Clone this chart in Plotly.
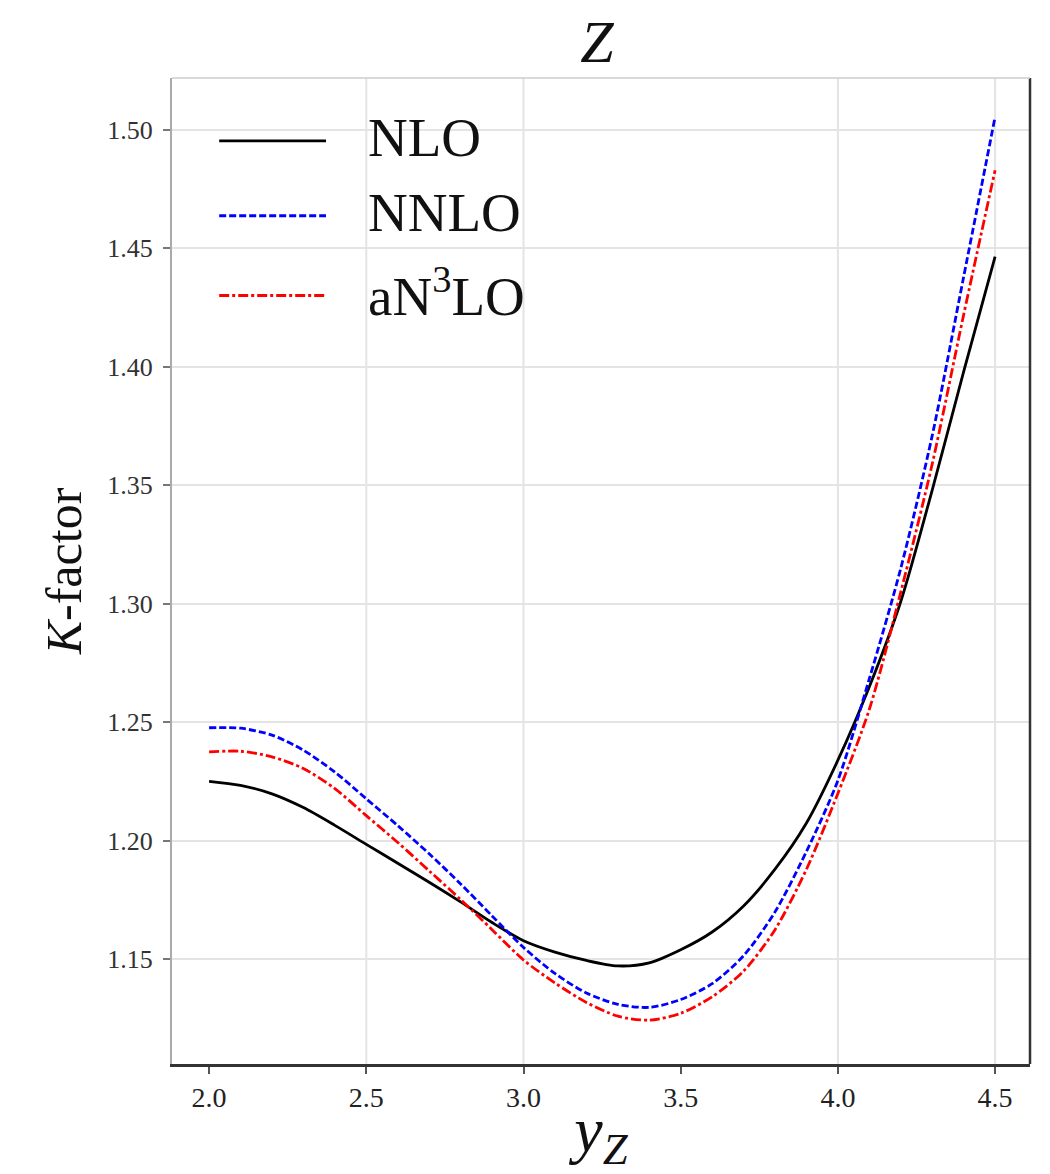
import plotly.graph_objects as go

# ---- data ----
y_z = [2.0, 2.1, 2.2, 2.3, 2.4, 2.5, 2.6, 2.7, 2.8, 2.9, 3.0, 3.1, 3.2,
       3.3, 3.4, 3.5, 3.6, 3.7, 3.8, 3.9, 4.0, 4.1, 4.2, 4.3, 4.4, 4.5]

k_nlo = [1.2251, 1.2234, 1.2198, 1.2140, 1.2065, 1.1985, 1.1905, 1.1825,
         1.1742, 1.1655, 1.1578, 1.1530, 1.1495, 1.1472, 1.1485, 1.1540,
         1.1615, 1.1725, 1.1880, 1.2075, 1.2340, 1.2650, 1.3010, 1.3480,
         1.3980, 1.4465]

k_nnlo = [1.2477, 1.2475, 1.2446, 1.2382, 1.2290, 1.2177, 1.2064, 1.1945,
          1.1818, 1.1683, 1.1550, 1.1440, 1.1358, 1.1310, 1.1297, 1.1330,
          1.1397, 1.1515, 1.1700, 1.1955, 1.2255, 1.2684, 1.3150, 1.3710,
          1.4380, 1.5055]

k_an3lo = [1.2375, 1.2378, 1.2354, 1.2305, 1.2220, 1.2106, 1.1993, 1.1873,
           1.1752, 1.1625, 1.1497, 1.1400, 1.1318, 1.1260, 1.1243, 1.1272,
           1.1342, 1.1450, 1.1625, 1.1880, 1.2200, 1.2555, 1.3050, 1.3590,
           1.4220, 1.4830]

series_names = ["NLO", "NNLO", "aN<sup>3</sup>LO"]
series_colors = ["#000000", "#0000ff", "#ff0000"]
series_dash = ["solid", "7px,3px", "10px,3px,3px,3px"]

x_ticks = [2.0, 2.5, 3.0, 3.5, 4.0, 4.5]
x_tick_labels = ["2.0", "2.5", "3.0", "3.5", "4.0", "4.5"]
x_grid = [2.5, 3.0, 4.0, 4.5]
y_ticks = [1.15, 1.20, 1.25, 1.30, 1.35, 1.40, 1.45, 1.50]
y_tick_labels = ["1.15", "1.20", "1.25", "1.30", "1.35", "1.40", "1.45", "1.50"]

X_RANGE = [1.882, 4.611]
Y_RANGE = [1.1058, 1.5219]

SERIF = "Liberation Serif, DejaVu Serif, serif"

fig = go.Figure()
for vals, name, col, dash in zip([k_nlo, k_nnlo, k_an3lo], series_names,
                                  series_colors, series_dash):
    fig.add_trace(go.Scatter(
        x=y_z, y=vals, mode="lines", name=name,
        line=dict(color=col, width=2.8, dash=dash, shape="spline", smoothing=0.8),
        showlegend=False,
    ))

shapes = []
annotations = []

# vertical grid lines (only those visible in the original)
for gx in x_grid:
    shapes.append(dict(type="line", xref="x", yref="paper", x0=gx, x1=gx, y0=0, y1=1,
                       layer="below", line=dict(color="#e4e4e4", width=2)))

# custom legend (long line samples like the original)
leg_y = [0.9362, 0.8603, 0.7794]
for name, col, dash, ly in zip(series_names, series_colors, series_dash, leg_y):
    shapes.append(dict(type="line", xref="paper", yref="paper",
                       x0=0.055, x1=0.1795, y0=ly, y1=ly,
                       line=dict(color=col, width=2.8, dash=dash)))
    annotations.append(dict(xref="paper", yref="paper", x=0.2260, y=ly + 0.003,
                            xanchor="left", yanchor="middle", text=name,
                            showarrow=False,
                            font=dict(family=SERIF, size=55, color="#111")))

# frame: right dark, top light
shapes.append(dict(type="line", xref="paper", yref="paper", x0=1, x1=1, y0=0, y1=1,
                   line=dict(color="#333333", width=2.5)))
shapes.append(dict(type="line", xref="paper", yref="paper", x0=0, x1=1, y0=1, y1=1,
                   line=dict(color="#cccccc", width=1.5)))

fig.update_layout(
    width=1050, height=1174,
    margin=dict(l=172, r=20, t=78, b=108),
    paper_bgcolor="white", plot_bgcolor="white",
    title=dict(text="<i>Z</i>", x=0.5686, xanchor="center", y=0.965, yanchor="middle",
               font=dict(family=SERIF, size=60, color="#111")),
    shapes=shapes,
    annotations=annotations,
    xaxis=dict(range=X_RANGE, tickvals=x_ticks, ticktext=x_tick_labels,
               showgrid=False, zeroline=False,
               showline=True, linecolor="#333333", linewidth=2.5,
               ticks="outside", ticklen=7, tickcolor="#555555", tickwidth=1.5,
               tickfont=dict(family=SERIF, size=28, color="#222"),
               title=dict(text="<i>y</i><sub><i>Z</i></sub>",
                          font=dict(family=SERIF, size=64, color="#111"), standoff=4)),
    yaxis=dict(range=Y_RANGE, tickvals=y_ticks, ticktext=y_tick_labels,
               showgrid=True, gridcolor="#e4e4e4", gridwidth=2, zeroline=False,
               showline=True, linecolor="#aaaaaa", linewidth=2,
               ticks="outside", ticklen=7, tickcolor="#777777", tickwidth=1.5,
               ticklabelstandoff=5,
               tickfont=dict(family=SERIF, size=26, color="#333"),
               title=dict(text="<i>K</i>-factor",
                          font=dict(family=SERIF, size=50, color="#111"), standoff=10)),
)

fig.write_html("out.html")
